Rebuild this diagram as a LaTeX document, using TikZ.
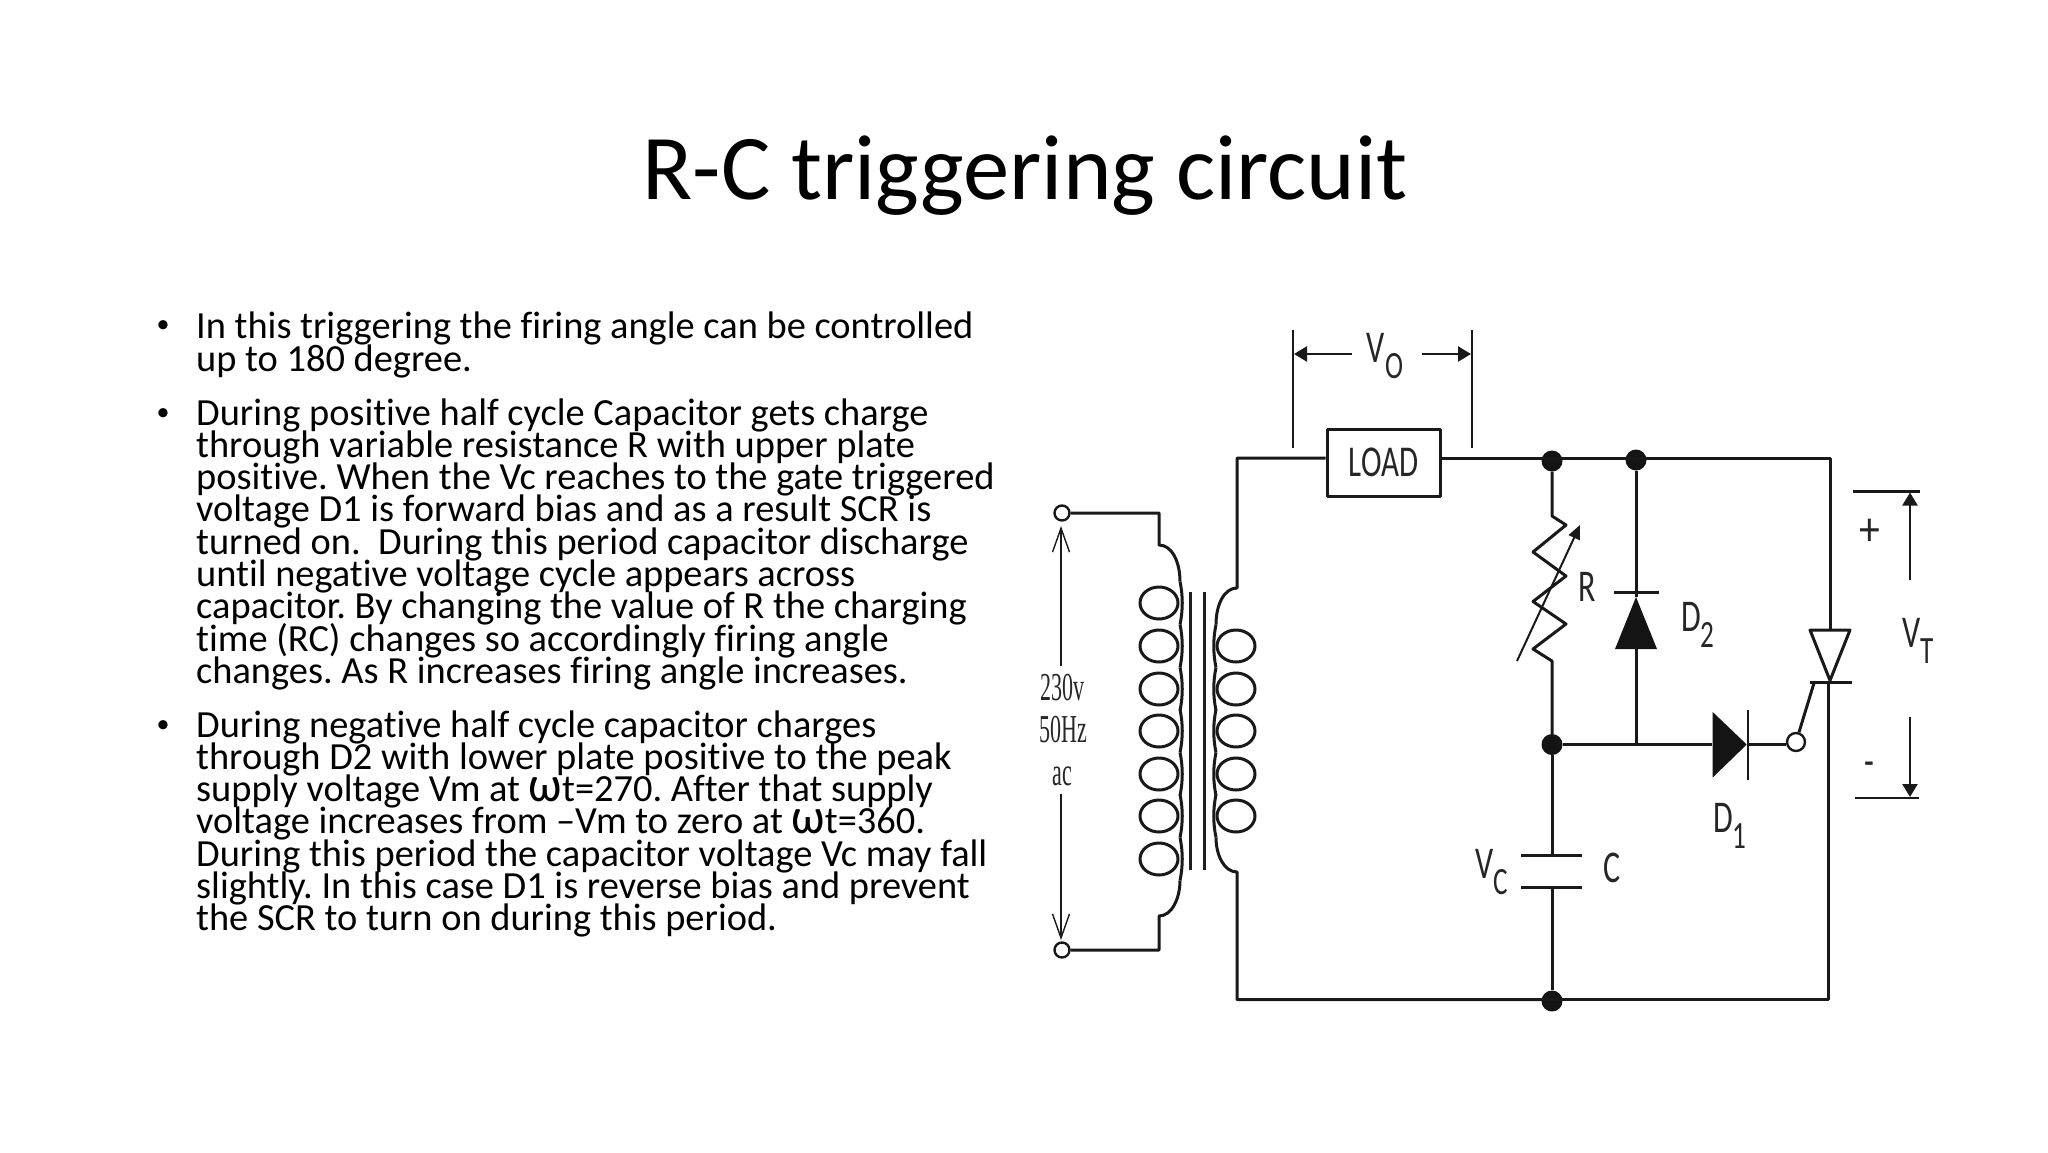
\documentclass[tikz,border=0pt]{standalone}
\usepackage{fontspec}
\setmainfont[Ligatures=NoCommon]{Carlito}
\newfontfamily\srcfont{Liberation Serif}
\usetikzlibrary{arrows.meta}
\setlength{\lineskiplimit}{-100pt}
\setlength{\normallineskiplimit}{-100pt}
\newcommand{\tallsans}[1]{\scalebox{1}[1.42]{#1}}
\newcommand{\tallsrc}[1]{\scalebox{1}[1.8]{#1}}
\newcommand{\lowsub}[2]{#1\raisebox{-.35em}{\scalebox{.85}{#2}}}
\newcommand{\bigomega}{\scalebox{1.25}[1.3]{ω}}
\tikzset{
  wire/.style={line width=3pt,color=black!90,line join=round},
  thinwire/.style={line width=2pt,color=black!90},
  dimline/.style={line width=2.4pt,color=black!90},
  dimarrow/.style={dimline,-{Triangle[length=13pt,width=15pt]}},
  barbarrow/.style={line width=1.4pt,color=black!90,-{Straight Barb[length=24pt,width=17pt]}},
  junction/.style={circle,fill=black!92,inner sep=0pt,minimum size=21pt},
  terminal/.style={circle,draw=black!90,line width=2.4pt,fill=white,inner sep=0pt,minimum size=15pt},
  solidtip/.style={fill=black!92,draw=none},
  circlabel/.style={inner sep=0pt,text=black!85,font=\fontsize{32}{32}\selectfont},
  srclabel/.style={inner sep=0pt,text=black!85,font=\srcfont\fontsize{22}{22}\selectfont},
  bodytext/.style={inner sep=0pt,anchor=north west,align=left,font=\fontsize{38.4}{32.3}\selectfont},
  bullet/.style={inner sep=0pt,font=\fontsize{26}{26}\selectfont}
}
\begin{document}
\frenchspacing
\begin{tikzpicture}[x=1pt,y=-1pt]
    \useasboundingbox (0,0) rectangle (2048,1152);
    \node (title) [inner sep=0pt,font=\fontsize{92.6}{92.6}\selectfont] at (1025,176) {R-C triggering circuit};
    \node (bulletA) [bullet] at (163,327) {•};
    \node (bulletB) [bullet] at (163,415) {•};
    \node (bulletC) [bullet] at (163,727) {•};
    \node (paraA) [bodytext] at (196,312) {In this triggering the firing angle can be controlled\\up to 180 degree.};
    \node (paraB) [bodytext] at (196,398.2) {During positive half cycle Capacitor gets charge\\through variable resistance R with upper plate\\positive. When the Vc reaches to the gate triggered\\voltage D1 is forward bias and as a result SCR is\\turned on.\ \ During this period capacitor discharge\\until negative voltage cycle appears across\\capacitor. By changing the value of R the charging\\time (RC) changes so accordingly firing angle\\changes. As R increases firing angle increases.};
    \node (paraC) [bodytext] at (196,710.2) {During negative half cycle capacitor charges\\through D2 with lower plate positive to the peak\\supply voltage Vm at \bigomega t=270. After that supply\\voltage increases from –Vm to zero at \bigomega t=360.\\During this period the capacitor voltage Vc may fall\\slightly. In this case D1 is reverse bias and prevent\\the SCR to turn on during this period.};

    \node (termTop) [terminal] at (1062,513) {};
    \node (termBot) [terminal] at (1062,950) {};
    \node (volt) [srclabel] at (1062,688) {\tallsrc{230v}};
    \node (freq) [srclabel] at (1063,730) {\tallsrc{50Hz}};
    \node (ac) [srclabel] at (1062,776) {\tallsrc{ac}};
    \draw [barbarrow] (volt.north -| termTop) ++(-1,-8) -- (1061,526);
    \draw [barbarrow] (ac.south -| termBot) ++(-1,8) -- (1061,940);

    \foreach \y in {603,646,689,731,774,816,859}
      \draw [wire] (1159,\y) ellipse (19 and 16);
    \foreach \y in {646,689,731,774,816}
      \draw [wire] (1236,\y) ellipse (19 and 16);
    \foreach \y in {603,646,689,731,774,816,859}
      \draw [wire] (1180,\y-21.5) .. controls (1183,\y-7) and (1183,\y+7) .. (1180,\y+21.5);
    \foreach \y in {646,689,731,774,816}
      \draw [wire] (1216,\y-21.5) .. controls (1213,\y-7) and (1213,\y+7) .. (1216,\y+21.5);
    \draw [wire] (termTop) -- (1159,513) -- (1159,545) .. controls (1172,545) and (1180,562) .. (1180,581.5);
    \draw [wire] (1180,880.5) .. controls (1180,898) and (1172,916) .. (1159,916) -- (1159,950) -- (termBot);
    \draw [line width=3pt,color=black!88] (1190,592) -- (1190,870);
    \draw [line width=3pt,color=black!88] (1204,592) -- (1204,870);

    \node (loadBox) [draw,wire,minimum width=113pt,minimum height=67pt,inner sep=0pt,text=black!85,font=\fontsize{31}{31}\selectfont] at (1383.5,462.5) {\tallsans{LOAD}};
    \node (dotR) [junction] at (1552,461) {};
    \node (dotD) [junction] at (1636,460) {};
    \node (dotMid) [junction] at (1552,744.5) {};
    \node (dotBot) [junction] at (1552,1001) {};
    \node (gate) [terminal,minimum size=18pt] at (1796,742) {};
    \coordinate (topRight) at (1830,458);
    \coordinate (botRight) at (1828,999.5);
    \coordinate (topLeft) at (1237,458);
    \coordinate (botLeft) at (1237,999.5);

    \draw [wire] (loadBox.west |- topLeft) -- (topLeft) -- (1237,588) .. controls (1224,588) and (1216,605) .. (1216,624.5);
    \draw [wire] (1216,837.5) .. controls (1216,855) and (1224,872) .. (1237,872) -- (botLeft) -- (dotBot |- botLeft);
    \draw [wire] (loadBox.east |- topRight) -- (dotR |- topRight) -- (dotD |- topRight) -- (topRight) -- (1830,630);
    \draw [wire] (dotBot |- botRight) -- (botRight) -- (1828,682);

    \draw [wire] (dotR) -- (1552,516) -- (1566,525) -- (1533,552) -- (1566,576) -- (1533,601.5) -- (1566,624) -- (1533,649) -- (1552,661) -- (dotMid);
    \draw [thinwire,-{Triangle[length=14pt,width=12pt]}] (1517,661) -- (1580,525);
    \node (labR) [circlabel] at (1587,587) {\tallsans{R}};

    \draw [wire] (dotD) -- (1636,597);
    \draw [solidtip] (1636,597) -- (1657,649) -- (1615,649) -- cycle;
    \draw [wire] (1614,592) -- (1659,592);
    \draw [wire] (1636,649) -- (1636,744.5);
    \node (labDtwo) [circlabel] at (1698,625) {\tallsans{\lowsub{D}{2}}};

    \draw [wire] (dotMid) -- (1712,744.5);
    \draw [solidtip] (1712.7,712) -- (1746.7,744.5) -- (1712.7,777.5) -- cycle;
    \draw [thinwire] (1748,710) -- (1748,780);
    \draw [wire] (1748,744.5) -- (gate.west |- dotMid);
    \node (labDone) [circlabel] at (1730,826) {\tallsans{\lowsub{D}{1}}};

    \draw [wire] (1810,630) -- (1850,630) -- (1830,680.5) -- cycle;
    \draw [wire] (1810,682) -- (1852,682);
    \draw [wire] (1814,683) -- (gate);

    \draw [wire] (dotMid) -- (1552,855);
    \draw [wire] (1521,855) -- (1582,855);
    \draw [wire] (1521,887.5) -- (1582,887.5);
    \draw [wire] (1552,887.5) -- (dotBot);
    \node (labVc) [circlabel] at (1492,872) {\tallsans{\lowsub{V}{C}}};
    \node (labC) [circlabel] at (1612,868) {\tallsans{C}};

    \node (labVo) [circlabel] at (1385,356) {\tallsans{\lowsub{V}{O}}};
    \draw [dimline] (1293,330) -- (1293,448);
    \draw [dimline] (1472,330) -- (1472,448);
    \draw [dimarrow] (1352,354) -- (1294,354);
    \draw [dimarrow] (1422,354) -- (1471,354);

    \node (labVt) [circlabel] at (1918,641) {\tallsans{\lowsub{V}{T}}};
    \node (labPlus) [circlabel] at (1870,532) {\scalebox{1.3}[1.5]{+}};
    \node (labMinus) [circlabel] at (1869,769) {\tallsans{-}};
    \draw [dimline] (1853,491.5) -- (1920,491.5);
    \draw [dimline] (1855,798) -- (1919,798);
    \draw [dimarrow] (1910,580) -- (1910,492.5);
    \draw [dimarrow] (1910,717) -- (1910,797);
\end{tikzpicture}
\end{document}
